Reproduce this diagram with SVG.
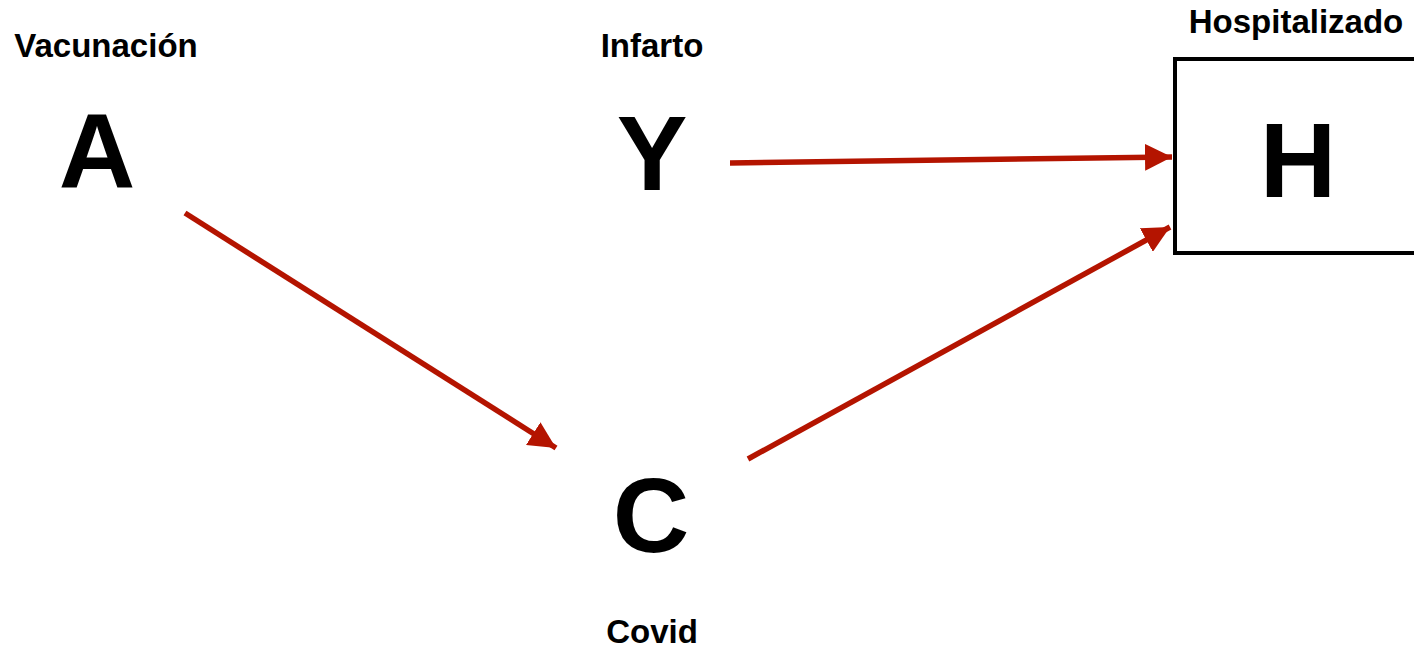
<svg xmlns="http://www.w3.org/2000/svg" width="1414" height="649" viewBox="0 0 1414 649">
<style>
.lbl{font-family:"Liberation Sans",Arial,sans-serif;font-weight:bold;font-size:33px;fill:#000;text-anchor:middle}
.big{font-family:"Liberation Sans",Arial,sans-serif;font-weight:bold;font-size:106px;fill:#000;text-anchor:middle}
.edge{stroke:#b41400;stroke-width:5.5;fill:none}
</style>
<defs>
<marker id="ah" viewBox="0 0 10 10" refX="10" refY="5" markerUnits="userSpaceOnUse" markerWidth="27" markerHeight="27" orient="auto">
<path d="M0,0 L10,5 L0,10 Z" fill="#b41400"/>
</marker>
</defs>
<rect width="1414" height="649" fill="#fff"/>
<g id="node-A">
<text class="lbl" x="106" y="57">Vacunación</text>
<text class="big" x="97" y="188">A</text>
</g>
<g id="node-Y">
<text class="lbl" x="652" y="57">Infarto</text>
<text class="big" x="652" y="190">Y</text>
</g>
<g id="node-C">
<text class="lbl" x="652" y="643">Covid</text>
<text class="big" x="651" y="552">C</text>
</g>
<g id="node-H">
<text class="lbl" x="1296" y="33">Hospitalizado</text>
<rect x="1175" y="59" width="245" height="194" fill="none" stroke="#000" stroke-width="4"/>
<text class="big" x="1298" y="197">H</text>
</g>
<g id="connectors">
<line class="edge" x1="730" y1="163" x2="1172" y2="157" marker-end="url(#ah)"/>
<line class="edge" x1="185" y1="213" x2="556" y2="448" marker-end="url(#ah)"/>
<line class="edge" x1="748" y1="459" x2="1170" y2="227" marker-end="url(#ah)"/>
</g>
</svg>
